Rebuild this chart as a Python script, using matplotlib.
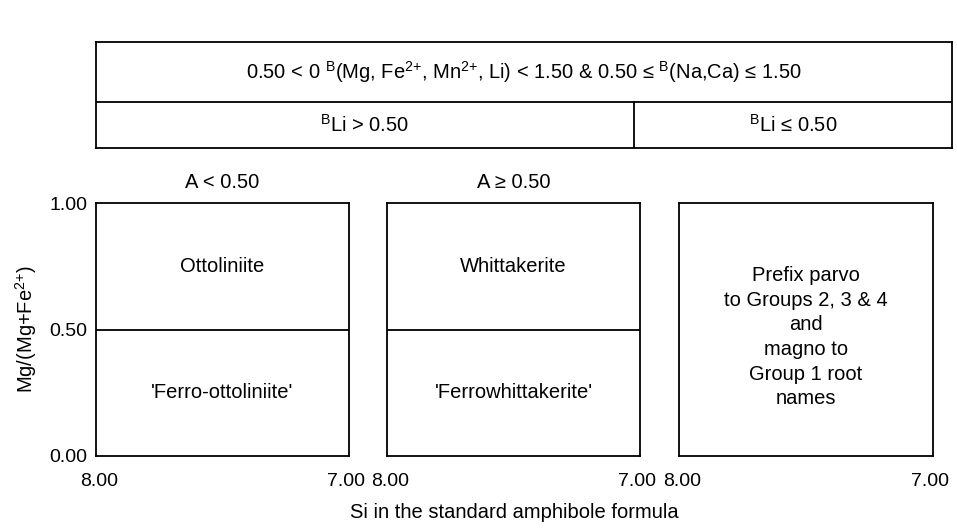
import matplotlib
matplotlib.use('Agg')
import matplotlib.pyplot as plt
import matplotlib.transforms as mtransforms

plt.rcParams['font.family'] = ['Liberation Sans', 'DejaVu Sans']
plt.rcParams['mathtext.fontset'] = 'custom'
plt.rcParams['mathtext.rm'] = 'Liberation Sans'
plt.rcParams['mathtext.it'] = 'Liberation Sans'

# data
si_range = [8.00, 7.00]
ratio_range = [0.00, 1.00]
ratio_ticks = [0.00, 0.50, 1.00]
boundary = 0.50
a_labels = ['A < 0.50', 'A \u2265 0.50', None]
upper_names = ['Ottoliniite', 'Whittakerite', None]
lower_names = ["'Ferro-ottoliniite'", "'Ferrowhittakerite'", None]
other_text = 'Prefix parvo\nto Groups 2, 3 & 4\nand\nmagno to\nGroup 1 root\nnames'

header_top = ('0.50 < 0 $^{\\mathrm{B}}$(Mg, Fe$^{2{+}}$, Mn$^{2{+}}$, Li) < 1.50 & 0.50 '
              '\u2264 $^{\\mathrm{B}}$(Na,Ca) \u2264 1.50')
header_left = '$^{\\mathrm{B}}$Li > 0.50'
header_right = '$^{\\mathrm{B}}$Li \u2264 0.50'

fig = plt.figure(figsize=(9.57, 5.28), dpi=100)
W, H = 957, 528

def px_axes(x0, y0, x1, y1):
    return fig.add_axes([x0 / W, 1 - y1 / H, (x1 - x0) / W, (y1 - y0) / H])

lw = 1.3
fs = 14.5
tfs = 14

# header boxes
hax = px_axes(96, 42, 952, 148)
hax.set_xlim(0, 1)
hax.set_ylim(0, 1)
hax.set_xticks([])
hax.set_yticks([])
for s in hax.spines.values():
    s.set_linewidth(lw)
split_y = 46 / 106
split_x = (634 - 96) / 856
hax.axhline(split_y, color='black', lw=lw)
hax.plot([split_x, split_x], [0, split_y], color='black', lw=lw)
hax.text(0.5, (1 + split_y) / 2, header_top, ha='center', va='center', fontsize=fs)
hax.text(split_x / 2, split_y / 2, header_left, ha='center', va='center', fontsize=fs)
hax.text((1 + split_x) / 2, split_y / 2, header_right, ha='center', va='center', fontsize=fs)

panels = [(96, 349), (387, 640), (679, 933)]
for i, (x0, x1) in enumerate(panels):
    ax = px_axes(x0, 203, x1, 456)
    ax.set_xlim(si_range)
    ax.set_ylim(ratio_range)
    ax.set_xticks(si_range)
    ax.set_xticklabels(['%.2f' % v for v in si_range], fontsize=tfs)
    ax.tick_params(axis='x', length=0, pad=12)
    ax.tick_params(axis='y', length=0, pad=6)
    # small nudge so neighbouring 7.00 / 8.00 labels don't touch
    for lab, dx in zip(ax.get_xticklabels(), [3, -3]):
        lab.set_transform(lab.get_transform() +
                          mtransforms.ScaledTranslation(dx / 100, 0, fig.dpi_scale_trans))
    for s in ax.spines.values():
        s.set_linewidth(lw)
    if i == 0:
        ax.set_yticks(ratio_ticks)
        ax.set_yticklabels(['%.2f' % v for v in ratio_ticks], fontsize=tfs)
        ax.set_ylabel('Mg/(Mg+Fe$^{2{+}}$)', fontsize=fs, labelpad=8)
    else:
        ax.set_yticks([])
    if upper_names[i] is not None:
        ax.axhline(boundary, color='black', lw=lw)
        ax.text(7.5, 0.75, upper_names[i], ha='center', va='center', fontsize=fs)
        ax.text(7.5, 0.25, lower_names[i], ha='center', va='center', fontsize=fs)
    else:
        ax.text(7.5, 0.47, other_text, ha='center', va='center', fontsize=fs,
                linespacing=1.38)
    if a_labels[i] is not None:
        ax.text(7.5, 1.08, a_labels[i], ha='center', va='center', fontsize=fs)

fig.text(514 / W, 1 - 513 / H, 'Si in the standard amphibole formula',
         ha='center', va='center', fontsize=fs)

fig.savefig('out.png', dpi=100)
